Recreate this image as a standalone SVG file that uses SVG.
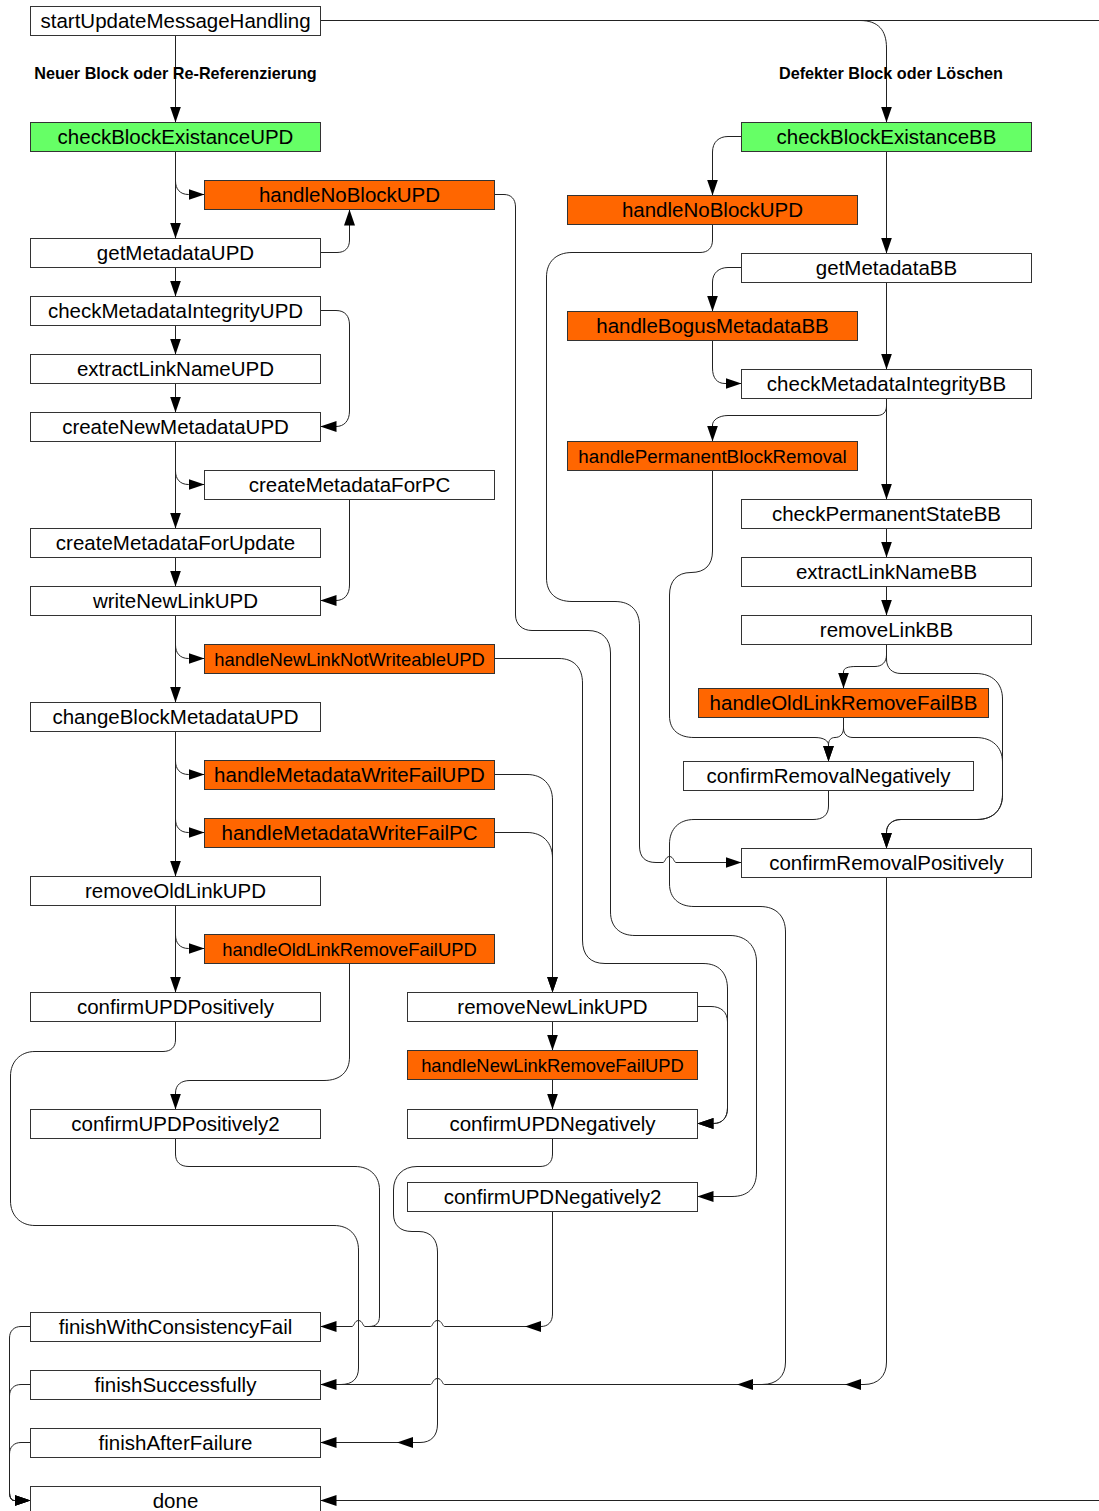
<svg xmlns="http://www.w3.org/2000/svg" width="1099" height="1511" viewBox="0 0 1099 1511">
<defs>
<style>
  .n rect { fill: #ffffff; stroke: #333333; stroke-width: 1; }
  .g rect { fill: #66ff66; }
  .o rect { fill: #ff6600; }
  text { font-family: "Liberation Sans", Arial, sans-serif; font-size: 20.5px; text-anchor: middle; fill: #000000; }
  .s text { font-size: 18.4px; }
  .lbl { font-weight: bold; font-size: 16.2px; }
  .e { fill: none; stroke: #222222; stroke-width: 1; }
  .a { marker-end: url(#ah); }
</style>
<marker id="ah" viewBox="0 0 16 11" refX="16" refY="5.5" markerWidth="16" markerHeight="11" markerUnits="userSpaceOnUse" orient="auto">
  <path d="M0,0 L16,5.5 L0,11 z" fill="#000000"/>
</marker>
</defs>
<rect x="0" y="0" width="1099" height="1511" fill="#ffffff"/>

<g id="connectors">
  <!-- start branches -->
  <path class="e a" d="M175.5,35.5 V122.5"/>
  <path class="e a" d="M320.5,20.5 H860 C878,20.5 886.5,30 886.5,48 V122.5"/>
  <path class="e a" d="M320.5,20.5 H1120 V1500.5 H320.5"/>
  <text class="lbl" x="175.5" y="79">Neuer Block oder Re-Referenzierung</text>
  <text class="lbl" x="891" y="79">Defekter Block oder Löschen</text>

  <!-- UPD column -->
  <path class="e a" d="M175.5,151.5 V181 C175.5,189 180,194.5 188.5,194.5 H204.5"/>
  <path class="e a" d="M175.5,151.5 V238.5"/>
  <path class="e a" d="M320.5,252.5 H337 C345,252.5 349.5,248 349.5,240 V209.5"/>
  <path class="e a" d="M175.5,267.5 V296.5"/>
  <path class="e a" d="M175.5,325.5 V354.5"/>
  <path class="e a" d="M320.5,310.5 H336 C345,310.5 349.5,316 349.5,325 V411 C349.5,421 344,426.5 336,426.5 H320.5"/>
  <path class="e a" d="M175.5,383.5 V412.5"/>
  <path class="e a" d="M175.5,441.5 V471 C175.5,479 180,484.5 188.5,484.5 H204.5"/>
  <path class="e a" d="M175.5,441.5 V528.5"/>
  <path class="e a" d="M349.5,499.5 V585 C349.5,595 344,600.5 336,600.5 H320.5"/>
  <path class="e a" d="M175.5,557.5 V586.5"/>
  <path class="e a" d="M175.5,615.5 V645 C175.5,653 180,658.5 188.5,658.5 H204.5"/>
  <path class="e a" d="M175.5,615.5 V702.5"/>
  <path class="e a" d="M494.5,658.5 H559 C574,658.5 582.5,668 582.5,683 V940 C582.5,955 590,963.5 605,963.5 H703 C719,963.5 727.5,973 727.5,989 V1108 C727.5,1118 722,1123.5 713.5,1123.5 H697.5"/>
  <path class="e a" d="M697.5,1006.5 H711 C721,1006.5 727.5,1012 727.5,1022 V1108 C727.5,1118 722,1123.5 713.5,1123.5 H697.5"/>
  <path class="e a" d="M552.5,1021.5 V1050.5"/>
  <path class="e a" d="M552.5,1079.5 V1109.5"/>
  <path class="e a" d="M175.5,731.5 V761 C175.5,769 180,774.5 188.5,774.5 H204.5"/>
  <path class="e a" d="M175.5,731.5 V819 C175.5,827 180,832.5 188.5,832.5 H204.5"/>
  <path class="e a" d="M175.5,731.5 V876.5"/>
  <path class="e a" d="M494.5,774.5 H527 C543,774.5 552.5,785 552.5,800 V992.5"/>
  <path class="e a" d="M494.5,832.5 H527 C543,832.5 552.5,843 552.5,858 V992.5"/>
  <path class="e a" d="M175.5,905.5 V935 C175.5,943 180,948.5 188.5,948.5 H204.5"/>
  <path class="e a" d="M175.5,905.5 V992.5"/>
  <path class="e a" d="M349.5,963.5 V1057 C349.5,1072 340,1080.5 324,1080.5 H190 C181,1080.5 175.5,1085 175.5,1093 V1109.5"/>
  <path class="e a" d="M175.5,1021.5 V1040 C175.5,1047 171,1051.5 163,1051.5 H35 C20,1051.5 10.5,1062 10.5,1076 V1201 C10.5,1215 20,1225.5 35,1225.5 H334 C349,1225.5 358.5,1235 358.5,1250 V1368 C358.5,1379 352,1384.5 341,1384.5 H320.5"/>
  <path class="e a" d="M175.5,1138.5 V1154 C175.5,1162 180,1166.5 189,1166.5 H355 C370,1166.5 379.5,1176 379.5,1190 V1316 C379.5,1323 376,1326.5 369,1326.5 H365 C363,1326.5 362.5,1320.5 358.5,1320.5 C354.5,1320.5 354,1326.5 352,1326.5 H320.5"/>
  <path class="e a" d="M552.5,1211.5 V1314 C552.5,1322 548,1326.5 541,1326.5 H525"/>
  <path class="e" d="M525,1326.5 H444.5 C442.5,1326.5 442,1320.5 437.5,1320.5 C433,1320.5 432.5,1326.5 430.5,1326.5 H369"/>
  <path class="e a" d="M552.5,1138.5 V1154 C552.5,1162 548,1166.5 540,1166.5 H417 C403,1166.5 393.5,1176 393.5,1190 V1214 C393.5,1225 400,1231.5 412,1231.5 H419 C431,1231.5 437.5,1240 437.5,1252 V1424 C437.5,1436 431,1442.5 420,1442.5 H397"/>
  <path class="e a" d="M397,1442.5 H320.5"/>
  <path class="e a" d="M494.5,194.5 H504 C511,194.5 515.5,199 515.5,207 V615 C515.5,624 522,630.5 532,630.5 H588 C602,630.5 610.5,639 610.5,653 V912 C610.5,927 620,935.5 635,935.5 H730 C746,935.5 756.5,946 756.5,962 V1172 C756.5,1188 748,1196.5 732,1196.5 H697.5"/>

  <!-- BB column -->
  <path class="e a" d="M741.5,136.5 H728 C719,136.5 712.5,142 712.5,152 V195.5"/>
  <path class="e a" d="M886.5,151.5 V253.5"/>
  <path class="e a" d="M741.5,267.5 H728 C719,267.5 712.5,273 712.5,282 V311.5"/>
  <path class="e a" d="M886.5,282.5 V369.5"/>
  <path class="e a" d="M712.5,340.5 V368 C712.5,378 717,383.5 725,383.5 H741.5"/>
  <path class="e a" d="M886.5,398.5 V406 C886.5,412 883,415.5 877,415.5 H728 C719,415.5 712.5,420 712.5,425 V441.5"/>
  <path class="e a" d="M886.5,398.5 V499.5"/>
  <path class="e a" d="M886.5,528.5 V557.5"/>
  <path class="e a" d="M886.5,586.5 V615.5"/>
  <path class="e a" d="M886.5,644.5 V655 C886.5,662 882,666.5 875,666.5 H856 C848,666.5 843.5,668 843.5,672 V688.5"/>
  <path class="e a" d="M886.5,644.5 V659 C886.5,668 892,673.5 901,673.5 H976 C992,673.5 1002.5,683 1002.5,699 V795 C1002.5,810 993,819.5 977,819.5 H901 C892,819.5 886.5,825 886.5,832 V848.5"/>
  <path class="e a" d="M843.5,717.5 V728 C843.5,734 847,737.5 853,737.5 H976 C992,737.5 1002.5,747 1002.5,762 V795 C1002.5,810 993,819.5 977,819.5 H901 C892,819.5 886.5,825 886.5,832 V848.5"/>
  <path class="e a" d="M843.5,717.5 V728 C843.5,734 840,737.5 835,737.5 C831,737.5 828.5,740 828.5,745 V761.5"/>
  <path class="e a" d="M712.5,470.5 V551 C712.5,565 705,572.5 691,572.5 C677,572.5 669.5,581 669.5,595 V716 C669.5,730 679,737.5 694,737.5 H815 C824,737.5 828.5,741 828.5,745 V761.5"/>
  <path class="e a" d="M712.5,224.5 V240 C712.5,248 708,252.5 700,252.5 H572 C556,252.5 546.5,262 546.5,277 V578 C546.5,593 556,601.5 572,601.5 H615 C631,601.5 639.5,611 639.5,626 V846 C639.5,857 645,862.5 656,862.5 H663 C665,862.5 665.5,856.5 669.5,856.5 C673.5,856.5 674,862.5 676,862.5 H741.5"/>
  <path class="e a" d="M828.5,790.5 V806 C828.5,815 823,819.5 813,819.5 H694 C679,819.5 669.5,829 669.5,844 V884 C669.5,898 679,906.5 694,906.5 H760 C776,906.5 785.5,916 785.5,932 V1362 C785.5,1376 777,1384.5 762,1384.5 H737"/>
  <path class="e" d="M737,1384.5 H444.5 C442.5,1384.5 442,1378.5 437.5,1378.5 C433,1378.5 432.5,1384.5 430.5,1384.5 H341"/>
  <path class="e a" d="M886.5,877.5 V1362 C886.5,1376 878,1384.5 864,1384.5 H845"/>
  <path class="e" d="M845,1384.5 H752"/>

  <!-- finish nodes to done -->
  <path class="e a" d="M30.5,1326.5 H21 C14,1326.5 9.5,1331 9.5,1338 V1492 C9.5,1497 11,1500.5 14.5,1500.5 H30.5"/>
  <path class="e a" d="M30.5,1384.5 H21 C14,1384.5 9.5,1389 9.5,1396 V1492 C9.5,1497 11,1500.5 14.5,1500.5 H30.5"/>
  <path class="e a" d="M30.5,1442.5 H21 C14,1442.5 9.5,1447 9.5,1454 V1492 C9.5,1497 11,1500.5 14.5,1500.5 H30.5"/>
</g>

<!-- UPD nodes -->
<g id="startUpdateMessageHandling" class="n"><rect x="30.5" y="6.5" width="290" height="29"/><text x="175.5" y="28">startUpdateMessageHandling</text></g>
<g id="checkBlockExistanceUPD" class="n g"><rect x="30.5" y="122.5" width="290" height="29"/><text x="175.5" y="144">checkBlockExistanceUPD</text></g>
<g id="handleNoBlockUPD" class="n o"><rect x="204.5" y="180.5" width="290" height="29"/><text x="349.5" y="202">handleNoBlockUPD</text></g>
<g id="getMetadataUPD" class="n"><rect x="30.5" y="238.5" width="290" height="29"/><text x="175.5" y="260">getMetadataUPD</text></g>
<g id="checkMetadataIntegrityUPD" class="n"><rect x="30.5" y="296.5" width="290" height="29"/><text x="175.5" y="318">checkMetadataIntegrityUPD</text></g>
<g id="extractLinkNameUPD" class="n"><rect x="30.5" y="354.5" width="290" height="29"/><text x="175.5" y="376">extractLinkNameUPD</text></g>
<g id="createNewMetadataUPD" class="n"><rect x="30.5" y="412.5" width="290" height="29"/><text x="175.5" y="434">createNewMetadataUPD</text></g>
<g id="createMetadataForPC" class="n"><rect x="204.5" y="470.5" width="290" height="29"/><text x="349.5" y="492">createMetadataForPC</text></g>
<g id="createMetadataForUpdate" class="n"><rect x="30.5" y="528.5" width="290" height="29"/><text x="175.5" y="550">createMetadataForUpdate</text></g>
<g id="writeNewLinkUPD" class="n"><rect x="30.5" y="586.5" width="290" height="29"/><text x="175.5" y="608">writeNewLinkUPD</text></g>
<g id="handleNewLinkNotWriteableUPD" class="n o s"><rect x="204.5" y="644.5" width="290" height="29"/><text x="349.5" y="665.5">handleNewLinkNotWriteableUPD</text></g>
<g id="changeBlockMetadataUPD" class="n"><rect x="30.5" y="702.5" width="290" height="29"/><text x="175.5" y="724">changeBlockMetadataUPD</text></g>
<g id="handleMetadataWriteFailUPD" class="n o"><rect x="204.5" y="760.5" width="290" height="29"/><text x="349.5" y="782">handleMetadataWriteFailUPD</text></g>
<g id="handleMetadataWriteFailPC" class="n o"><rect x="204.5" y="818.5" width="290" height="29"/><text x="349.5" y="840">handleMetadataWriteFailPC</text></g>
<g id="removeOldLinkUPD" class="n"><rect x="30.5" y="876.5" width="290" height="29"/><text x="175.5" y="898">removeOldLinkUPD</text></g>
<g id="handleOldLinkRemoveFailUPD" class="n o s"><rect x="204.5" y="934.5" width="290" height="29"/><text x="349.5" y="955.5">handleOldLinkRemoveFailUPD</text></g>
<g id="confirmUPDPositively" class="n"><rect x="30.5" y="992.5" width="290" height="29"/><text x="175.5" y="1014">confirmUPDPositively</text></g>
<g id="removeNewLinkUPD" class="n"><rect x="407.5" y="992.5" width="290" height="29"/><text x="552.5" y="1014">removeNewLinkUPD</text></g>
<g id="handleNewLinkRemoveFailUPD" class="n o s"><rect x="407.5" y="1050.5" width="290" height="29"/><text x="552.5" y="1071.5">handleNewLinkRemoveFailUPD</text></g>
<g id="confirmUPDPositively2" class="n"><rect x="30.5" y="1109.5" width="290" height="29"/><text x="175.5" y="1131">confirmUPDPositively2</text></g>
<g id="confirmUPDNegatively" class="n"><rect x="407.5" y="1109.5" width="290" height="29"/><text x="552.5" y="1131">confirmUPDNegatively</text></g>
<g id="confirmUPDNegatively2" class="n"><rect x="407.5" y="1182.5" width="290" height="29"/><text x="552.5" y="1204">confirmUPDNegatively2</text></g>

<!-- finishing nodes -->
<g id="finishWithConsistencyFail" class="n"><rect x="30.5" y="1312.5" width="290" height="29"/><text x="175.5" y="1334">finishWithConsistencyFail</text></g>
<g id="finishSuccessfully" class="n"><rect x="30.5" y="1370.5" width="290" height="29"/><text x="175.5" y="1392">finishSuccessfully</text></g>
<g id="finishAfterFailure" class="n"><rect x="30.5" y="1428.5" width="290" height="29"/><text x="175.5" y="1450">finishAfterFailure</text></g>
<g id="done" class="n"><rect x="30.5" y="1486.5" width="290" height="29"/><text x="175.5" y="1508">done</text></g>

<!-- BB nodes -->
<g id="checkBlockExistanceBB" class="n g"><rect x="741.5" y="122.5" width="290" height="29"/><text x="886.5" y="144">checkBlockExistanceBB</text></g>
<g id="handleNoBlockUPD_BB" class="n o"><rect x="567.5" y="195.5" width="290" height="29"/><text x="712.5" y="217">handleNoBlockUPD</text></g>
<g id="getMetadataBB" class="n"><rect x="741.5" y="253.5" width="290" height="29"/><text x="886.5" y="275">getMetadataBB</text></g>
<g id="handleBogusMetadataBB" class="n o"><rect x="567.5" y="311.5" width="290" height="29"/><text x="712.5" y="333">handleBogusMetadataBB</text></g>
<g id="checkMetadataIntegrityBB" class="n"><rect x="741.5" y="369.5" width="290" height="29"/><text x="886.5" y="391">checkMetadataIntegrityBB</text></g>
<g id="handlePermanentBlockRemoval" class="n o s"><rect x="567.5" y="441.5" width="290" height="29"/><text x="712.5" y="463" style="font-size:18.8px">handlePermanentBlockRemoval</text></g>
<g id="checkPermanentStateBB" class="n"><rect x="741.5" y="499.5" width="290" height="29"/><text x="886.5" y="521">checkPermanentStateBB</text></g>
<g id="extractLinkNameBB" class="n"><rect x="741.5" y="557.5" width="290" height="29"/><text x="886.5" y="579">extractLinkNameBB</text></g>
<g id="removeLinkBB" class="n"><rect x="741.5" y="615.5" width="290" height="29"/><text x="886.5" y="637">removeLinkBB</text></g>
<g id="handleOldLinkRemoveFailBB" class="n o"><rect x="698.5" y="688.5" width="290" height="29"/><text x="843.5" y="710">handleOldLinkRemoveFailBB</text></g>
<g id="confirmRemovalNegatively" class="n"><rect x="683.5" y="761.5" width="290" height="29"/><text x="828.5" y="783">confirmRemovalNegatively</text></g>
<g id="confirmRemovalPositively" class="n"><rect x="741.5" y="848.5" width="290" height="29"/><text x="886.5" y="870">confirmRemovalPositively</text></g>
</svg>
